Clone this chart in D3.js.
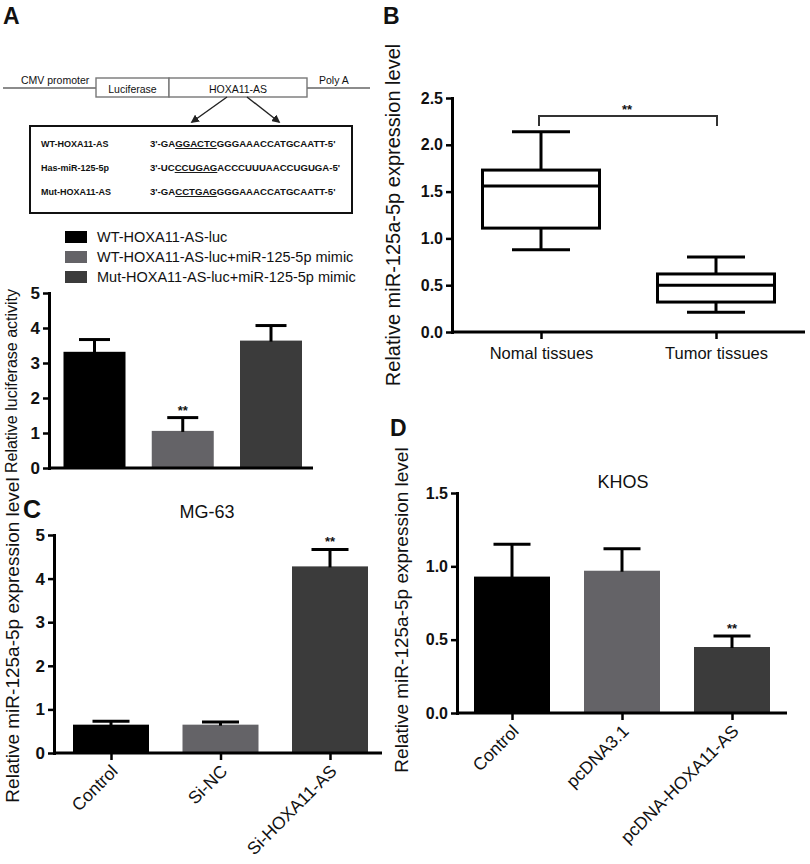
<!DOCTYPE html>
<html><head><meta charset="utf-8">
<script src="https://cdn.jsdelivr.net/npm/d3@7"></script>
<style>body{margin:0;background:#fff} svg{display:block} text{font-family:Arial,"Liberation Sans",sans-serif;fill:#111}</style>
</head><body><svg id="c" width="810" height="864"></svg>
<script>
// ---------- data ----------
const constructParts = ["Luciferase", "HOXA11-AS"];
const constructEnds = ["CMV promoter", "Poly A"];
const seqLabels = ["WT-HOXA11-AS", "Has-miR-125-5p", "Mut-HOXA11-AS"];
const seqPre = ["3'-GA", "3'-UC", "3'-GA"];
const seqSite = ["GGACTC", "CCUGAG", "CCTGAG"];
const seqPost = ["GGGAAACCATGCAATT-5'", "ACCCUUUAACCUGUGA-5'", "GGGAAACCATGCAATT-5'"];

const aGroups = ["WT-HOXA11-AS-luc", "WT-HOXA11-AS-luc+miR-125-5p mimic", "Mut-HOXA11-AS-luc+miR-125-5p mimic"];
const aMeans = [3.32, 1.06, 3.64];
const aErr = [0.35, 0.38, 0.43];
const aSig = ["", "**", ""];
const aTicks = [0, 1, 2, 3, 4, 5];

const bCats = ["Nomal tissues", "Tumor tissues"];
const bMin = [0.88, 0.21];
const bQ1 = [1.11, 0.32];
const bMed = [1.56, 0.50];
const bQ3 = [1.73, 0.62];
const bMax = [2.14, 0.80];
const bTicks = [0, 0.5, 1.0, 1.5, 2.0, 2.5];

const cCats = ["Control", "Si-NC", "Si-HOXA11-AS"];
const cMeans = [0.65, 0.65, 4.28];
const cErr = [0.08, 0.06, 0.39];
const cSig = ["", "", "**"];
const cTicks = [0, 1, 2, 3, 4, 5];

const dCats = ["Control", "pcDNA3.1", "pcDNA-HOXA11-AS"];
const dMeans = [0.93, 0.97, 0.45];
const dErr = [0.22, 0.15, 0.075];
const dSig = ["", "", "**"];
const dTicks = [0, 0.5, 1.0, 1.5];

const colors = ["#000000", "#646367", "#3b3b3b"];

// ---------- helpers ----------
const svg = d3.select("#c");
const AXW = 3;

function yAxis(g, y, x, ticks, fmt, fs) {
  const ax = g.append("g").attr("transform", `translate(${x},0)`)
    .call(d3.axisLeft(y).tickValues(ticks).tickFormat(fmt).tickSize(6).tickSizeOuter(0).tickPadding(3));
  ax.select(".domain").attr("stroke", "#000").attr("stroke-width", AXW).attr("stroke-linecap", "square");
  ax.selectAll(".tick line").attr("stroke", "#000").attr("stroke-width", 2.5);
  ax.selectAll(".tick text").attr("font-size", fs).attr("font-weight", "bold").attr("fill", "#111")
    .attr("font-family", "Arial, 'Liberation Sans', sans-serif");
  return ax;
}
function baseLine(g, x0, x1, y0) {
  g.append("line").attr("x1", x0).attr("x2", x1).attr("y1", y0).attr("y2", y0)
    .attr("stroke", "#000").attr("stroke-width", AXW);
}
function yLabel(g, text, cx, cy, fs) {
  g.append("text").attr("transform", `translate(${cx},${cy}) rotate(-90)`)
    .attr("text-anchor", "middle").attr("dominant-baseline", "central")
    .attr("font-size", fs).text(text);
}
function panelLetter(text, x, y, fs) {
  svg.append("text").attr("x", x).attr("y", y).attr("font-size", fs).attr("font-weight", "bold").attr("fill", "#000").text(text);
}
function bars(g, cats, means, errs, sig, x, y, bw, capw) {
  cats.forEach((c, i) => {
    const cx = x(c);
    g.append("rect").attr("x", cx - bw / 2).attr("width", bw)
      .attr("y", y(means[i])).attr("height", y(0) - y(means[i])).attr("fill", colors[i]);
    const top = y(means[i] + errs[i]);
    g.append("line").attr("x1", cx).attr("x2", cx).attr("y1", y(means[i]) + 1).attr("y2", top)
      .attr("stroke", "#000").attr("stroke-width", 3);
    g.append("line").attr("x1", cx - capw / 2).attr("x2", cx + capw / 2).attr("y1", top).attr("y2", top)
      .attr("stroke", "#000").attr("stroke-width", 3);
    if (sig[i]) g.append("text").attr("x", cx).attr("y", top - 3).attr("text-anchor", "middle")
      .attr("font-size", 13).attr("font-weight", "bold").text(sig[i]);
  });
}

// ---------- Panel A: construct diagram ----------
panelLetter("A", 3, 24, 23);
const gD = svg.append("g");
gD.append("line").attr("x1", 3).attr("x2", 370).attr("y1", 88).attr("y2", 88).attr("stroke", "#666").attr("stroke-width", 1.6);
const partX = d3.scaleOrdinal().domain(constructParts).range([[96, 169], [169, 307]]);
constructParts.forEach(p => {
  const [a, b] = partX(p);
  gD.append("rect").attr("x", a).attr("y", 78).attr("width", b - a).attr("height", 19)
    .attr("fill", "#fff").attr("stroke", "#777").attr("stroke-width", 1.4);
  gD.append("text").attr("x", (a + b) / 2).attr("y", 93).attr("text-anchor", "middle")
    .attr("font-size", 10.5).attr("fill", "#222").text(p);
});
gD.append("text").attr("x", 21).attr("y", 84).attr("font-size", 10.5).attr("fill", "#222").text(constructEnds[0]);
gD.append("text").attr("x", 319).attr("y", 84).attr("font-size", 10.5).attr("fill", "#222").text(constructEnds[1]);
svg.append("defs").append("marker").attr("id", "ah").attr("viewBox", "0 0 10 10").attr("refX", 8).attr("refY", 5)
  .attr("markerWidth", 6).attr("markerHeight", 6).attr("orient", "auto")
  .append("path").attr("d", "M0,0 L10,5 L0,10 z").attr("fill", "#222");
gD.append("line").attr("x1", 227).attr("y1", 97).attr("x2", 192).attr("y2", 122).attr("stroke", "#222").attr("stroke-width", 1.4).attr("marker-end", "url(#ah)");
gD.append("line").attr("x1", 247).attr("y1", 97).attr("x2", 279).attr("y2", 122).attr("stroke", "#222").attr("stroke-width", 1.4).attr("marker-end", "url(#ah)");
gD.append("rect").attr("x", 30).attr("y", 126).attr("width", 322).attr("height", 87)
  .attr("fill", "#fff").attr("stroke", "#111").attr("stroke-width", 2);
const rowY = d3.scalePoint().domain(seqLabels).range([147, 195]);
seqLabels.forEach((lab, i) => {
  gD.append("text").attr("x", 41).attr("y", rowY(lab)).attr("font-size", 9).attr("font-weight", "bold").attr("fill", "#222").text(lab);
  const t = gD.append("text").attr("x", 150).attr("y", rowY(lab)).attr("font-size", 9.6).attr("font-weight", "bold").attr("fill", "#222");
  t.append("tspan").text(seqPre[i]);
  t.append("tspan").attr("text-decoration", "underline").text(seqSite[i]);
  t.append("tspan").text(seqPost[i]);
});

// ---------- Panel A: legend + bars ----------
const gA = svg.append("g");
const legY = d3.scalePoint().domain(aGroups).range([237, 277]);
aGroups.forEach((g, i) => {
  gA.append("rect").attr("x", 65).attr("y", legY(g) - 6).attr("width", 22).attr("height", 12).attr("fill", colors[i]);
  gA.append("text").attr("x", 97).attr("y", legY(g)).attr("dominant-baseline", "central").attr("font-size", 14.5).text(g);
});
const yA = d3.scaleLinear().domain([0, 5]).range([468, 293]);
const xA = d3.scalePoint().domain(aGroups).range([94.5, 271]);
bars(gA, aGroups, aMeans, aErr, aSig, xA, yA, 62, 31);
yAxis(gA, yA, 49, aTicks, d3.format("d"), 17);
baseLine(gA, 49, 313, yA(0));
yLabel(gA, "Relative luciferase activity", 11, 381, 16);

// ---------- Panel B: box plot ----------
panelLetter("B", 383, 24, 23);
const gB = svg.append("g");
const yB = d3.scaleLinear().domain([0, 2.5]).range([332, 98]);
const xB = d3.scalePoint().domain(bCats).range([541, 716]);
const bw = 117, cw = 58;
bCats.forEach((c, i) => {
  const cx = xB(c);
  const L = (x1, y1, x2, y2) => gB.append("line").attr("x1", x1).attr("y1", y1).attr("x2", x2).attr("y2", y2).attr("stroke", "#000").attr("stroke-width", 3);
  L(cx, yB(bMax[i]), cx, yB(bQ3[i]));
  L(cx, yB(bQ1[i]), cx, yB(bMin[i]));
  L(cx - cw / 2, yB(bMax[i]), cx + cw / 2, yB(bMax[i]));
  L(cx - cw / 2, yB(bMin[i]), cx + cw / 2, yB(bMin[i]));
  gB.append("rect").attr("x", cx - bw / 2).attr("width", bw).attr("y", yB(bQ3[i])).attr("height", yB(bQ1[i]) - yB(bQ3[i]))
    .attr("fill", "#fff").attr("stroke", "#000").attr("stroke-width", 3);
  L(cx - bw / 2, yB(bMed[i]), cx + bw / 2, yB(bMed[i]));
});
yAxis(gB, yB, 452, bTicks, d3.format(".1f"), 16);
baseLine(gB, 452, 805, yB(0));
const axB = gB.append("g").attr("transform", `translate(0,${yB(0)})`).call(d3.axisBottom(xB).tickSize(7).tickPadding(8));
axB.select(".domain").remove();
axB.selectAll(".tick line").attr("stroke", "#000").attr("stroke-width", 2.5);
axB.selectAll(".tick text").attr("font-size", 16.5).attr("fill", "#111").attr("font-family", "Arial, 'Liberation Sans', sans-serif");
gB.append("path").attr("d", `M${xB(bCats[0]) - 2},126 V116 H${xB(bCats[1]) + 1} V126`).attr("fill", "none").attr("stroke", "#333").attr("stroke-width", 2);
gB.append("text").attr("x", 627).attr("y", 114).attr("text-anchor", "middle").attr("font-size", 13).attr("font-weight", "bold").text("**");
yLabel(gB, "Relative miR-125a-5p expression level", 393, 215, 20);

// ---------- Panel C ----------
panelLetter("C", 23, 518, 25);
const gC = svg.append("g");
const yC = d3.scaleLinear().domain([0, 5]).range([753, 535]);
const xC = d3.scalePoint().domain(cCats).range([111, 330]);
bars(gC, cCats, cMeans, cErr, cSig, xC, yC, 76, 37);
yAxis(gC, yC, 54, cTicks, d3.format("d"), 17);
baseLine(gC, 54, 382, yC(0));
function rotAxis(g, x, y0) {
  const ax = g.append("g").attr("transform", `translate(0,${y0})`).call(d3.axisBottom(x).tickSize(7));
  ax.select(".domain").remove();
  ax.selectAll(".tick line").attr("stroke", "#000").attr("stroke-width", 2.5);
  ax.selectAll(".tick text").attr("font-size", 17.5).attr("fill", "#111").attr("font-family", "Arial, 'Liberation Sans', sans-serif")
    .attr("text-anchor", "end").attr("x", 0).attr("y", 0).attr("dy", "0.35em")
    .attr("transform", "translate(3,15) rotate(-45)");
}
rotAxis(gC, xC, yC(0));
gC.append("text").attr("x", 207).attr("y", 518).attr("text-anchor", "middle").attr("font-size", 18).text("MG-63");
yLabel(gC, "Relative miR-125a-5p expression level", 12, 640, 19);

// ---------- Panel D ----------
panelLetter("D", 390, 436, 23);
const gDd = svg.append("g");
const yD = d3.scaleLinear().domain([0, 1.5]).range([713, 493]);
const xD = d3.scalePoint().domain(dCats).range([512, 732]);
bars(gDd, dCats, dMeans, dErr, dSig, xD, yD, 76, 37);
yAxis(gDd, yD, 457, dTicks, d3.format(".1f"), 16);
baseLine(gDd, 457, 787, yD(0));
rotAxis(gDd, xD, yD(0));
gDd.append("text").attr("x", 623).attr("y", 488).attr("text-anchor", "middle").attr("font-size", 18).text("KHOS");
yLabel(gDd, "Relative miR-125a-5p expression level", 401, 610, 19);
</script></body></html>
